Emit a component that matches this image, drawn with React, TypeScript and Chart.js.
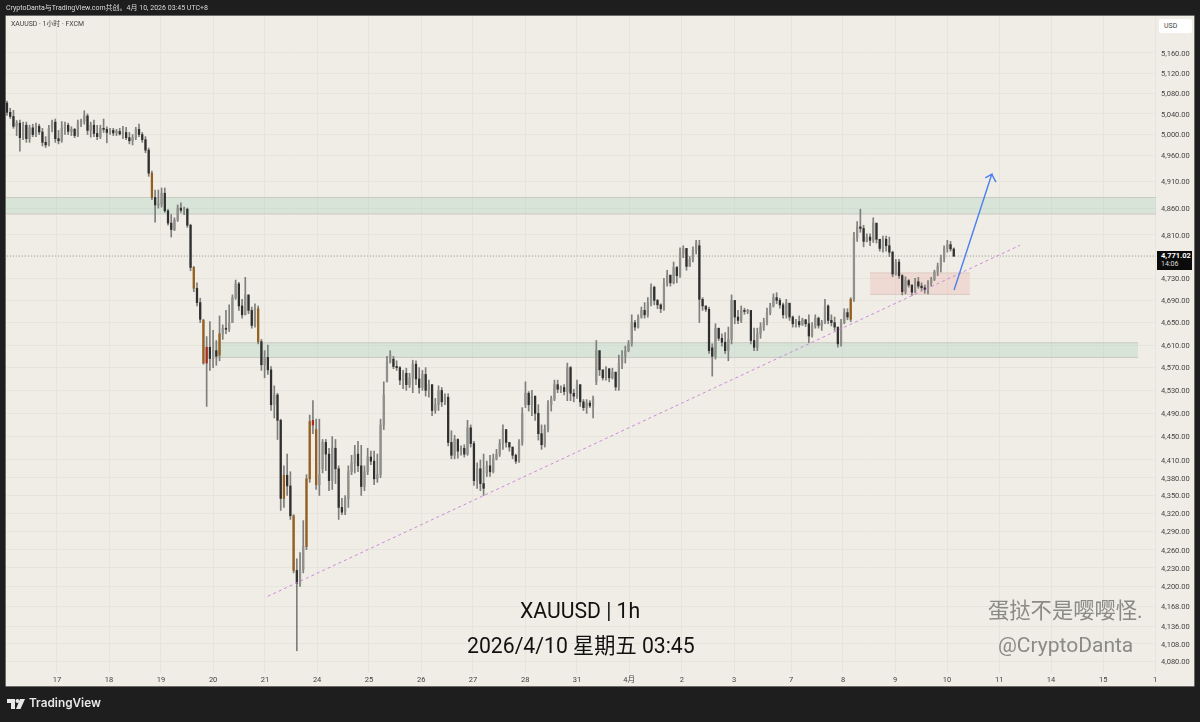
import { Chart, registerables } from "chart.js";
import { useEffect, useRef } from "react";

Chart.register(...registerables);

const opens = [
  5061,5043,5035,5016,5022,4994,5018,4992,5013,5000,
  5016,5005,4985,4980,5012,5024,4992,4988,5012,5018,
  5006,5010,4998,5022,5026,5036,5008,5018,5002,4996,
  5012,5010,5004,5008,5003,5006,5001,5004,4994,4988,
  4994,5010,5000,4990,4970,4926,4880,4866,4868,4888,
  4855,4832,4820,4838,4860,4856,4858,4828,4750,4712,
  4686,4654,4578,4606,4586,4600,4592,4630,4640,4638,
  4650,4695,4720,4680,4664,4700,4672,4645,4675,4616,
  4575,4588,4566,4505,4522,4478,4345,4384,4366,4316,
  4226,4205,4228,4265,4378,4478,4462,4368,4395,4440,
  4420,4375,4430,4395,4330,4322,4345,4390,4405,4420,
  4400,4365,4390,4415,4408,4378,4385,4470,4545,4580,
  4585,4572,4570,4548,4560,4540,4552,4576,4550,4535,
  4558,4530,4540,4495,4505,4530,4510,4518,4440,4418,
  4445,4425,4430,4420,4465,4438,4375,4395,4370,4388,
  4400,4390,4412,4420,4438,4462,4440,4432,4418,4408,
  4440,4505,4525,4505,4520,4490,4455,4436,4462,4505,
  4515,4540,4532,4535,4528,4570,4525,4520,4540,4510,
  4500,4508,4503,4545,4600,4566,4552,4568,4552,4562,
  4536,4578,4590,4600,4612,4650,4642,4660,4672,4664,
  4685,4714,4690,4682,4675,4720,4736,4722,4750,4735,
  4775,4785,4752,4765,4782,4790,4692,4680,4674,4605,
  4590,4640,4622,4615,4600,4620,4690,4660,4654,4672,
  4670,4672,4618,4606,4630,4642,4650,4668,4680,4695,
  4690,4682,4664,4685,4660,4648,4652,4646,4655,4648,
  4626,4644,4658,4645,4650,4680,4654,4650,4642,4612,
  4650,4668,4656,4692,4805,4825,4822,4798,4806,4800,
  4832,4802,4785,4802,4790,4778,4738,4760,4735,4706,
  4726,4718,4705,4724,4716,4713,4710,4722,4728,4742,
  4752,4768,4785,4792,4784,
];
const highs = [
  5065,5051,5047,5027,5028,5024,5024,5018,5020,5022,
  5020,5012,4996,5018,5028,5030,5008,5025,5024,5022,
  5015,5012,5028,5030,5046,5040,5024,5028,5018,5018,
  5030,5015,5012,5012,5010,5012,5016,5014,5004,5000,
  5014,5020,5004,4996,4974,4930,4894,4894,4898,4898,
  4858,4848,4842,4866,4870,4862,4860,4830,4752,4722,
  4694,4656,4625,4652,4636,4618,4662,4646,4672,4682,
  4700,4727,4723,4692,4732,4700,4678,4684,4680,4620,
  4600,4610,4572,4538,4525,4480,4400,4420,4390,4318,
  4245,4255,4308,4385,4487,4512,4480,4480,4445,4445,
  4430,4450,4445,4400,4345,4350,4400,4418,4435,4442,
  4435,4400,4430,4425,4425,4420,4480,4545,4590,4600,
  4590,4582,4572,4565,4569,4560,4583,4582,4570,4565,
  4570,4548,4540,4516,4538,4535,4524,4524,4460,4452,
  4446,4434,4436,4478,4470,4442,4405,4410,4420,4408,
  4418,4420,4428,4445,4470,4462,4440,4432,4420,4445,
  4500,4545,4528,4530,4520,4505,4470,4470,4512,4520,
  4548,4548,4538,4540,4578,4572,4532,4548,4540,4514,
  4514,4512,4520,4618,4600,4566,4572,4568,4569,4562,
  4592,4600,4608,4618,4664,4654,4664,4678,4686,4695,
  4720,4716,4692,4684,4730,4745,4736,4760,4752,4786,
  4790,4785,4770,4788,4800,4800,4695,4680,4678,4612,
  4648,4640,4630,4632,4642,4700,4690,4672,4680,4676,
  4674,4672,4640,4640,4650,4658,4676,4685,4702,4704,
  4694,4685,4692,4685,4662,4656,4662,4658,4656,4664,
  4650,4664,4660,4654,4692,4682,4664,4660,4642,4656,
  4675,4675,4695,4815,4835,4858,4828,4812,4812,4842,
  4832,4802,4808,4808,4806,4780,4765,4765,4737,4733,
  4728,4718,4730,4732,4722,4718,4726,4732,4745,4758,
  4773,4790,4800,4798,4786,
];
const lows = [
  5037,5031,5012,4998,4968,4990,4985,4985,4996,4996,
  5000,4978,4975,4978,5005,4985,4982,4985,5000,5000,
  4998,4994,4996,5015,5020,5000,4995,4996,4990,4992,
  5004,4984,5000,4998,4998,4999,4992,4990,4982,4980,
  4990,4996,4985,4965,4920,4876,4834,4860,4862,4852,
  4828,4806,4818,4835,4852,4848,4824,4744,4706,4680,
  4650,4576,4502,4565,4570,4574,4582,4620,4630,4634,
  4650,4692,4672,4658,4664,4666,4640,4642,4612,4565,
  4552,4558,4495,4482,4445,4325,4330,4350,4310,4222,
  4097,4200,4222,4260,4372,4455,4360,4350,4388,4392,
  4358,4360,4370,4310,4318,4318,4330,4385,4388,4390,
  4350,4358,4385,4402,4368,4372,4380,4462,4545,4578,
  4568,4565,4540,4533,4530,4535,4526,4540,4525,4530,
  4520,4518,4486,4490,4495,4502,4505,4434,4412,4412,
  4413,4418,4415,4418,4432,4367,4362,4358,4350,4382,
  4382,4388,4410,4416,4428,4432,4425,4412,4404,4406,
  4435,4500,4494,4486,4478,4444,4428,4432,4458,4494,
  4512,4526,4526,4522,4512,4512,4510,4516,4502,4495,
  4490,4500,4482,4540,4556,4548,4548,4545,4550,4530,
  4530,4568,4578,4598,4608,4636,4640,4658,4658,4660,
  4680,4682,4675,4668,4672,4716,4716,4720,4722,4732,
  4768,4745,4752,4760,4775,4650,4672,4670,4595,4555,
  4585,4618,4608,4595,4582,4612,4648,4648,4650,4665,
  4666,4612,4600,4600,4622,4636,4646,4664,4678,4684,
  4676,4658,4658,4654,4642,4642,4642,4645,4643,4614,
  4624,4640,4640,4636,4648,4648,4644,4636,4606,4608,
  4648,4655,4652,4688,4798,4815,4788,4797,4790,4796,
  4795,4780,4778,4780,4770,4733,4736,4730,4700,4702,
  4714,4699,4704,4712,4708,4703,4702,4716,4726,4735,
  4742,4760,4778,4780,4770,
];
const closes = [
  5043,5035,5016,5022,4994,5018,4992,5013,5000,5016,
  5005,4985,4980,5012,5024,4992,4988,5012,5018,5006,
  5010,4998,5022,5026,5036,5008,5018,5002,4996,5012,
  5010,5004,5008,5003,5006,5001,5004,4994,4988,4994,
  5010,5000,4990,4970,4926,4880,4866,4868,4888,4855,
  4832,4820,4838,4860,4856,4858,4828,4750,4712,4686,
  4656,4578,4606,4586,4600,4590,4630,4640,4638,4650,
  4695,4720,4680,4664,4700,4672,4645,4675,4616,4575,
  4588,4566,4505,4522,4478,4345,4384,4366,4316,4226,
  4205,4228,4265,4378,4476,4470,4368,4385,4440,4420,
  4375,4430,4395,4330,4322,4345,4390,4405,4420,4400,
  4365,4390,4415,4408,4378,4385,4470,4522,4580,4592,
  4572,4570,4548,4560,4540,4552,4576,4550,4535,4558,
  4530,4540,4495,4505,4530,4510,4518,4440,4418,4445,
  4425,4430,4420,4465,4438,4375,4395,4370,4362,4400,
  4390,4412,4420,4438,4462,4440,4432,4418,4408,4440,
  4490,4525,4505,4520,4490,4455,4436,4462,4505,4515,
  4540,4532,4535,4528,4570,4525,4520,4540,4510,4500,
  4508,4503,4515,4600,4566,4552,4568,4552,4562,4536,
  4578,4590,4600,4612,4650,4642,4660,4672,4664,4685,
  4714,4690,4682,4675,4720,4736,4722,4750,4735,4775,
  4785,4752,4765,4782,4795,4692,4680,4674,4600,4590,
  4640,4622,4615,4600,4620,4690,4660,4654,4672,4670,
  4672,4618,4606,4630,4642,4650,4668,4680,4695,4690,
  4682,4664,4685,4660,4648,4652,4646,4655,4648,4626,
  4644,4658,4645,4650,4680,4654,4650,4642,4612,4650,
  4668,4660,4692,4805,4825,4822,4798,4806,4800,4832,
  4802,4785,4802,4790,4778,4738,4760,4735,4706,4726,
  4718,4705,4724,4716,4713,4710,4722,4728,4742,4752,
  4768,4785,4792,4784,4771.02,
];

// bars that TradingView painted with the orange / red candle colour
const orangeBars = [45, 58, 61, 66, 78, 86, 89, 93, 94, 96, 262];
const redBars = [62, 95];

const priceTicks = [
  5160, 5120, 5080, 5040, 5000, 4960, 4910, 4860, 4810, 4730, 4690, 4650, 4610, 4570, 4530,
  4490, 4450, 4410, 4380, 4350, 4320, 4290, 4260, 4230, 4200, 4168, 4136, 4108, 4080,
];
const dayLabels = ["17", "18", "19", "20", "21", "24", "25", "26", "27", "28", "31", "4月", "2", "3", "7", "8", "9", "10", "11", "14", "15", "1"];
const dayBars = [15.5, 31.7, 47.8, 64, 80.1, 96.3, 112.4, 128.6, 144.7, 160.9, 177, 193.2, 209.6, 225.8, 243.5, 259.6, 275.8, 291.9, 308.1, 324.2, 340.4, 356.5];

const lastPrice = 4771.02;
const supportLine = [{ x: 81, y: 4184 }, { x: 314.6, y: 4791 }];
const arrowPath = [
  { x: 294.1, y: 4709 }, { x: 305.8, y: 4924 }, { x: 303.8, y: 4917 },
  { x: 305.8, y: 4924 }, { x: 307.1, y: 4909 },
];

const zones = [
  { from: -1, to: 357, top: 4880, bottom: 4849, fill: "rgba(168,208,184,0.33)", edge: "#c9c9c0" },
  { from: 64.3, to: 351.2, top: 4614, bottom: 4588, fill: "rgba(168,208,184,0.33)", edge: "#c9c9c0" },
  { from: 268, to: 299, top: 4740, bottom: 4701, fill: "rgba(238,170,160,0.28)", edge: "#dac8c2" },
];

const zonePlugin = {
  id: "zones",
  beforeDatasetsDraw(chart: any) {
    const { ctx, scales } = chart;
    zones.forEach((z) => {
      const x1 = scales.x.getPixelForValue(Math.max(z.from, scales.x.min));
      const x2 = scales.x.getPixelForValue(Math.min(z.to, scales.x.max));
      const y1 = scales.y.getPixelForValue(z.top);
      const y2 = scales.y.getPixelForValue(z.bottom);
      ctx.save();
      ctx.fillStyle = z.fill;
      ctx.fillRect(x1, y1, x2 - x1, y2 - y1);
      ctx.strokeStyle = z.edge;
      ctx.lineWidth = 1;
      ctx.beginPath();
      ctx.moveTo(x1, y1);
      ctx.lineTo(x2, y1);
      ctx.moveTo(x1, y2);
      ctx.lineTo(x2, y2);
      ctx.stroke();
      ctx.restore();
    });
  },
};

const bodyColor = (i: number) => {
  if (redBars.includes(i)) return "#a52a20";
  if (orangeBars.includes(i)) return "#95601f";
  return closes[i] >= opens[i] ? "#8f8f8b" : "#2f2f2f";
};

const text = (style: React.CSSProperties): React.CSSProperties => ({
  position: "absolute",
  whiteSpace: "nowrap",
  lineHeight: 1,
  fontFamily: "Roboto, 'Noto Sans CJK SC', sans-serif",
  ...style,
});

export default function App() {
  const canvasRef = useRef<HTMLCanvasElement | null>(null);

  useEffect(() => {
    if (!canvasRef.current) return;

    const chart = new Chart(canvasRef.current, {
      type: "bar",
      data: {
        datasets: [
          {
            type: "line",
            data: arrowPath,
            borderColor: "#4b7ff0",
            borderWidth: 1.4,
            pointRadius: 0,
            order: 0,
          },
          {
            type: "line",
            data: supportLine,
            borderColor: "#c98ad8",
            borderWidth: 1,
            borderDash: [3, 3],
            pointRadius: 0,
            order: 0,
          },
          {
            type: "line",
            data: [{ x: -1, y: lastPrice }, { x: 357, y: lastPrice }],
            borderColor: "#8d8d85",
            borderWidth: 1,
            borderDash: [1, 2],
            pointRadius: 0,
            order: 3,
          },
          {
            data: closes.map((c, i) => ({ x: i, y: [opens[i], c] })),
            backgroundColor: closes.map((_, i) => bodyColor(i)),
            barThickness: 1.6,
            grouped: false,
            order: 1,
          },
          {
            data: closes.map((_, i) => ({ x: i, y: [lows[i], highs[i]] })),
            backgroundColor: "#7e7e7a",
            barThickness: 1,
            grouped: false,
            order: 2,
          },
        ] as any,
      },
      options: {
        responsive: false,
        animation: false,
        layout: { padding: { left: 6, top: 16, right: 5, bottom: 36 } },
        plugins: { legend: { display: false }, tooltip: { enabled: false }, title: { display: false } },
        scales: {
          x: {
            type: "linear",
            offset: false,
            min: -0.31,
            max: 356.8,
            grid: { color: "#e7e4dd", drawTicks: false, offset: false },
            border: { display: false },
            ticks: {
              autoSkip: false,
              maxRotation: 0,
              padding: 3,
              color: "#444",
              font: { family: "Roboto, 'Noto Sans CJK SC'", size: 7.5 },
              callback: (_v: any, i: number) => dayLabels[i],
            },
            afterBuildTicks: (scale: any) => {
              scale.ticks = dayBars.map((value) => ({ value }));
            },
            afterFit: (scale: any) => {
              scale.height = 13;
            },
          },
          y: {
            type: "logarithmic",
            position: "right",
            bounds: "data",
            min: 4062,
            max: 5234,
            grid: { color: "#e7e4dd", drawTicks: false },
            border: { display: false },
            ticks: {
              autoSkip: false,
              padding: 5,
              labelOffset: 1,
              color: "#444",
              font: { family: "Roboto", size: 7.5 },
              callback: (v: any) =>
                Number(v).toLocaleString("en-US", { minimumFractionDigits: 2, maximumFractionDigits: 2 }),
            },
            afterBuildTicks: (scale: any) => {
              scale.ticks = priceTicks.map((value) => ({ value }));
            },
            afterFit: (scale: any) => {
              scale.width = 39;
            },
          },
        },
      },
      plugins: [zonePlugin],
    });

    return () => {
      chart.destroy();
    };
  }, []);

  return (
    <div style={{ position: "fixed", left: 0, top: 0, width: 1200, height: 722, background: "#1e1e1e", overflow: "hidden" }}>
      <div style={{ position: "absolute", left: 6, top: 16, width: 1188, height: 670, background: "#f0ede6", boxShadow: "0 0 0 0.5px #b9b7b0" }} />
      <canvas ref={canvasRef} width={1200} height={722} style={{ position: "absolute", left: 0, top: 0, width: 1200, height: 722 }} />

      <div style={text({ left: 6, top: 5, fontSize: 7, color: "#dcdcdc" })}>CryptoDanta与TradingView.com共创。4月 10, 2026 03:45 UTC+8</div>
      <div style={text({ left: 11, top: 21, fontSize: 6.9, color: "#444" })}>XAUUSD · 1小时 · FXCM</div>

      <div style={text({ left: 1159, top: 19, width: 33, height: 14, background: "#fff", borderRadius: 2, fontSize: 7, color: "#444", paddingLeft: 5, boxSizing: "border-box", lineHeight: "14px" })}>USD</div>
      <div style={{ position: "absolute", left: 1157, top: 251, width: 35, height: 19, background: "#0b0b0b" }} />
      <div style={text({ left: 1161, top: 252, fontSize: 7.5, fontWeight: 700, color: "#fff" })}>4,771.02</div>
      <div style={text({ left: 1161, top: 261, fontSize: 7, color: "#ddd" })}>14:06</div>

      <div style={text({ left: 520, top: 600, fontSize: 21.2, color: "#111" })}>XAUUSD | 1h</div>
      <div style={text({ left: 467, top: 635, fontSize: 21.2, color: "#111" })}>2026/4/10 星期五 03:45</div>
      <div style={text({ left: 988, top: 600, fontSize: 21.3, color: "#8a8a86" })}>蛋挞不是嘤嘤怪.</div>
      <div style={text({ left: 998, top: 635, fontSize: 21, color: "#8a8a86" })}>@CryptoDanta</div>

      <svg style={{ position: "absolute", left: 7, top: 699 }} width={18} height={10} viewBox="0 0 18 10">
        <path d="M0 0H8V10H4V4H0Z M13 0H18L13.5 10H9Z" fill="#e8e8e8" />
        <circle cx="10.5" cy="2" r="2" fill="#e8e8e8" />
      </svg>
      <div style={text({ left: 29, top: 698, fontFamily: "Inter, sans-serif", fontSize: 11.8, fontWeight: 600, color: "#e8e8e8" })}>TradingView</div>
    </div>
  );
}
